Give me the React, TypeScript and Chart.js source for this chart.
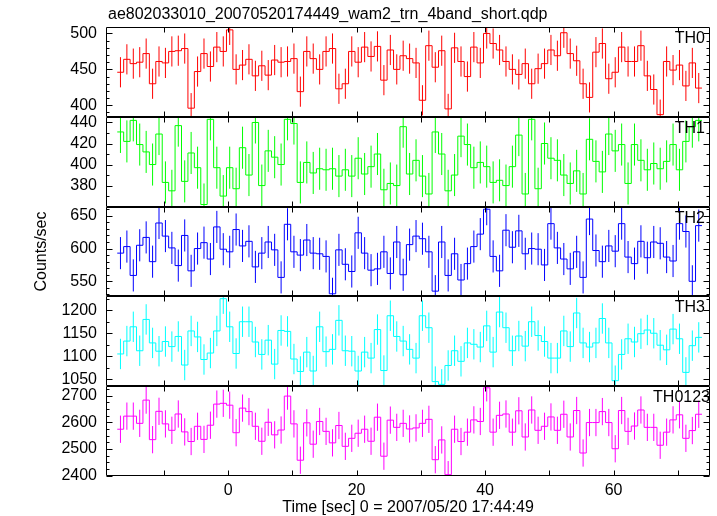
import React, { useEffect, useRef } from "react";
import { Chart, registerables } from "chart.js";

Chart.register(...registerables);

// 1-second bins, left edge of the first bin (seconds from 2007/05/20 17:44:49)
const BIN_START = -17.25;
const BIN_WIDTH = 1;

const TH0_RATE = [
  446, 464, 458, 460, 472, 430, 461, 459, 475, 476,
  479, 396, 447, 472, 454, 481, 475, 505, 450, 456,
  464, 441, 455, 442, 463, 460, 461, 465, 419, 475,
  465, 450, 475, 479, 423, 430, 475, 460, 481, 468,
  482, 435, 477, 450, 469, 465, 459, 407, 483, 453,
  476, 395, 480, 461, 440, 481, 459, 500, 486, 477,
  461, 450, 443, 458, 430, 451, 458, 477, 469, 501,
  472, 462, 430, 411, 474, 486, 437, 446, 481, 461,
  461, 483, 441, 422, 387, 461, 449, 456, 427, 459,
  424,
];
const TH1_RATE = [
  431, 422, 442, 419, 412, 400, 429, 383, 375, 437,
  384, 411, 397, 362, 443, 397, 370, 397, 377, 416,
  390, 440, 380, 413, 407, 400, 443, 439, 383, 402,
  392, 396, 395, 396, 389, 395, 389, 406, 391, 398,
  410, 376, 382, 380, 436, 391, 404, 389, 372, 431,
  410, 375, 390, 427, 419, 397, 402, 398, 383, 385,
  380, 398, 428, 372, 443, 377, 420, 406, 404, 390,
  382, 394, 372, 424, 403, 393, 429, 413, 419, 382,
  419, 404, 395, 401, 396, 403, 419, 395, 422, 436,
  442,
];
const TH2_RATE = [
  593, 603, 559, 605, 617, 580, 639, 619, 601, 574,
  620, 566, 600, 609, 584, 633, 599, 595, 629, 604,
  611, 572, 593, 610, 598, 556, 637, 595, 590, 613,
  593, 592, 588, 531, 598, 576, 565, 624, 593, 567,
  569, 595, 562, 610, 560, 606, 619, 615, 595, 535,
  610, 559, 592, 552, 577, 603, 622, 660, 588, 566,
  628, 602, 627, 592, 600, 599, 575, 638, 601, 584,
  569, 595, 556, 645, 597, 580, 604, 596, 638, 587,
  577, 611, 586, 610, 608, 587, 581, 638, 626, 550,
  635,
];
const TH3_RATE = [
  1105, 1133, 1164, 1112, 1180, 1129, 1111, 1132, 1121, 1143,
  1081, 1155, 1142, 1093, 1107, 1155, 1225, 1164, 1106, 1175,
  1175, 1131, 1104, 1135, 1083, 1156, 1154, 1094, 1067, 1109,
  1068, 1164, 1110, 1115, 1178, 1112, 1111, 1068, 1109, 1096,
  1158, 1069, 1188, 1143, 1133, 1115, 1096, 1188, 1162, 1045,
  1039, 1080, 1112, 1089, 1129, 1126, 1120, 1166, 1109, 1196,
  1162, 1112, 1144, 1122, 1175, 1145, 1132, 1096, 1096, 1155,
  1121, 1194, 1129, 1120, 1129, 1182, 1129, 1047, 1104, 1138,
  1131, 1149, 1157, 1150, 1124, 1114, 1159, 1138, 1065, 1123,
  1141,
];
const TH0123_RATE = [
  2574, 2623, 2623, 2596, 2683, 2535, 2641, 2594, 2570, 2631,
  2564, 2528, 2585, 2536, 2589, 2668, 2671, 2664, 2561, 2653,
  2640, 2585, 2529, 2600, 2553, 2571, 2698, 2594, 2458, 2598,
  2518, 2603, 2566, 2523, 2588, 2510, 2540, 2559, 2574, 2529,
  2619, 2473, 2608, 2581, 2596, 2575, 2579, 2596, 2611, 2460,
  2534, 2404, 2574, 2528, 2563, 2609, 2603, 2729, 2563, 2626,
  2631, 2563, 2643, 2545, 2646, 2570, 2585, 2620, 2570, 2630,
  2545, 2644, 2485, 2599, 2599, 2640, 2599, 2501, 2644, 2566,
  2586, 2646, 2581, 2581, 2514, 2563, 2609, 2628, 2540, 2569,
  2630,
];

// typical 1-sigma error bar half-lengths (counts/sec)
const TH0_ERR = 21;
const TH1_ERR = 20;
const TH2_ERR = 24.5;
const TH3_ERR = 33;
const TH0123_ERR = 51;

const TH0_TICKS = [400, 450, 500];
const TH1_TICKS = [380, 400, 420, 440];
const TH2_TICKS = [550, 600, 650];
const TH3_TICKS = [1050, 1100, 1150, 1200];
const TH0123_TICKS = [2400, 2500, 2600, 2700];
const X_TICKS = [0, 20, 40, 60];

const TITLE = "ae802033010_20070520174449_wam2_trn_4band_short.qdp";
const X_TITLE = "Time [sec] 0 = 2007/05/20 17:44:49";
const Y_TITLE = "Counts/sec";

const FONT_FAMILY = "'Liberation Sans', Arial, Helvetica, sans-serif";
const FONT_SIZE = 16;

const PANELS = [
  { id: "y0", name: "TH0", rate: TH0_RATE, err: TH0_ERR, ticks: TH0_TICKS, color: "#ff0000", min: 384, max: 509, minor: 10, labelRight: 705 },
  { id: "y1", name: "TH1", rate: TH1_RATE, err: TH1_ERR, ticks: TH1_TICKS, color: "#00ff00", min: 360, max: 445.4, minor: 10, labelRight: 705 },
  { id: "y2", name: "TH2", rate: TH2_RATE, err: TH2_ERR, ticks: TH2_TICKS, color: "#0000ff", min: 527, max: 664, minor: 10, labelRight: 705 },
  { id: "y3", name: "TH3", rate: TH3_RATE, err: TH3_ERR, ticks: TH3_TICKS, color: "#00ffff", min: 1035, max: 1230, minor: 25, labelRight: 705 },
  { id: "y4", name: "TH0123", rate: TH0123_RATE, err: TH0123_ERR, ticks: TH0123_TICKS, color: "#ff00ff", min: 2399, max: 2735, minor: 25, labelRight: 710 },
];

const X_MIN = -19;
const X_MAX = 75;
const X_TICK_MARK_STEP = 10;

const decorPlugin = {
  id: "qdpDecor",
  beforeDatasetDraw(chart: any, args: any) {
    const { xScale, yScale } = args.meta;
    const ctx = chart.ctx;
    ctx.save();
    ctx.beginPath();
    ctx.rect(xScale.left, yScale.top, xScale.right - xScale.left, yScale.bottom - yScale.top);
    ctx.clip();
  },
  afterDatasetDraw(chart: any) {
    chart.ctx.restore();
  },
  afterDraw(chart: any) {
    const ctx = chart.ctx;
    const xs = chart.scales.x;
    const font = `${FONT_SIZE}px ${FONT_FAMILY}`;
    ctx.save();
    ctx.strokeStyle = "#000";
    ctx.lineWidth = 1;
    const L = Math.round(xs.left) + 0.5;
    const R = Math.round(xs.right) - 0.5;
    PANELS.forEach((p) => {
      const ys = chart.scales[p.id];
      const T = Math.round(ys.top) + 0.5;
      const B = Math.round(ys.bottom) - 0.5;
      ctx.beginPath();
      ctx.rect(L, T, R - L, B - T);
      ctx.stroke();
      // y ticks (inside, both sides)
      ctx.beginPath();
      const start = Math.ceil(p.min / p.minor) * p.minor;
      for (let v = start; v <= p.max; v += p.minor) {
        const y = Math.round(ys.getPixelForValue(v)) + 0.5;
        const len = p.ticks.includes(v) ? 6 : 3;
        ctx.moveTo(L, y);
        ctx.lineTo(L + len, y);
        ctx.moveTo(R, y);
        ctx.lineTo(R - len, y);
      }
      // x ticks (inside, top and bottom)
      const xs0 = Math.ceil(X_MIN / X_TICK_MARK_STEP) * X_TICK_MARK_STEP;
      for (let t = xs0; t <= X_MAX; t += X_TICK_MARK_STEP) {
        const x = Math.round(xs.getPixelForValue(t)) + 0.5;
        ctx.moveTo(x, T);
        ctx.lineTo(x, T + 5);
        ctx.moveTo(x, B);
        ctx.lineTo(x, B - 5);
      }
      ctx.stroke();
      // panel label
      ctx.fillStyle = "#000";
      ctx.font = font;
      ctx.textAlign = "right";
      ctx.textBaseline = "alphabetic";
      ctx.fillText(p.name, p.labelRight, ys.top + 16);
    });
    // titles
    ctx.fillStyle = "#000";
    ctx.font = font;
    ctx.textAlign = "left";
    ctx.textBaseline = "alphabetic";
    ctx.fillText(TITLE, 108, 19);
    ctx.textAlign = "center";
    ctx.fillText(X_TITLE, (xs.left + xs.right) / 2, 511.5);
    const top = chart.scales[PANELS[0].id].top;
    const bottom = chart.scales[PANELS[PANELS.length - 1].id].bottom;
    ctx.translate(46, (top + bottom) / 2);
    ctx.rotate(-Math.PI / 2);
    ctx.fillText(Y_TITLE, 0, 0);
    ctx.restore();
  },
};

export default function App() {
  const canvasRef = useRef<HTMLCanvasElement | null>(null);

  useEffect(() => {
    const canvas = canvasRef.current;
    if (!canvas) return;
    const datasets: any[] = [];
    const scales: any = {
      x: {
        type: "linear",
        position: "bottom",
        min: X_MIN,
        max: X_MAX,
        grid: { display: false, drawTicks: false },
        border: { display: false },
        ticks: {
          color: "#000",
          font: { family: FONT_FAMILY, size: FONT_SIZE },
          padding: 5,
          maxRotation: 0,
          autoSkip: false,
          callback: (v: any) => String(v),
        },
        afterBuildTicks: (s: any) => {
          s.ticks = X_TICKS.map((v) => ({ value: v }));
        },
        afterFit: (s: any) => {
          s.height = 40;
        },
      },
    };
    PANELS.forEach((p, k) => {
      const steps = p.rate.map((v, i) => ({ x: BIN_START + i * BIN_WIDTH, y: v }));
      steps.push({ x: BIN_START + p.rate.length * BIN_WIDTH, y: p.rate[p.rate.length - 1] });
      datasets.push({
        type: "line",
        data: steps,
        xAxisID: "x",
        yAxisID: p.id,
        borderColor: p.color,
        borderWidth: 1,
        stepped: true,
        pointRadius: 0,
        fill: false,
        clip: 0,
      });
      const bars: any[] = [];
      p.rate.forEach((v, i) => {
        const t = BIN_START + (i + 0.5) * BIN_WIDTH;
        bars.push({ x: t, y: v - p.err }, { x: t, y: v + p.err }, { x: t, y: null });
      });
      datasets.push({
        type: "line",
        data: bars,
        xAxisID: "x",
        yAxisID: p.id,
        borderColor: p.color,
        borderWidth: 1,
        spanGaps: false,
        pointRadius: 0,
        fill: false,
        clip: 0,
      });
      scales[p.id] = {
        type: "linear",
        position: "left",
        stack: "panels",
        stackWeight: 1,
        weight: PANELS.length - k,
        min: p.min,
        max: p.max,
        grid: { display: false, drawTicks: false },
        border: { display: false },
        ticks: {
          color: "#000",
          font: { family: FONT_FAMILY, size: FONT_SIZE },
          padding: 9,
          autoSkip: false,
          callback: (v: any) => String(v),
        },
        afterBuildTicks: (s: any) => {
          s.ticks = p.ticks.map((v) => ({ value: v }));
        },
        afterFit: (s: any) => {
          s.width = 106;
        },
      };
    });

    const chart = new Chart(canvas, {
      type: "line",
      data: { datasets },
      options: {
        responsive: false,
        animation: false,
        devicePixelRatio: 1,
        layout: { padding: { left: 0, right: 7, top: 27, bottom: 0 } },
        plugins: {
          legend: { display: false },
          tooltip: { enabled: false },
          title: { display: false },
        },
        events: [],
        scales,
      },
      plugins: [decorPlugin],
    } as any);
    return () => chart.destroy();
  }, []);

  return (
    <div style={{ position: "absolute", left: 0, top: 0, width: 717, height: 516, background: "#fff" }}>
      <canvas ref={canvasRef} width={717} height={516} style={{ display: "block" }} />
    </div>
  );
}
